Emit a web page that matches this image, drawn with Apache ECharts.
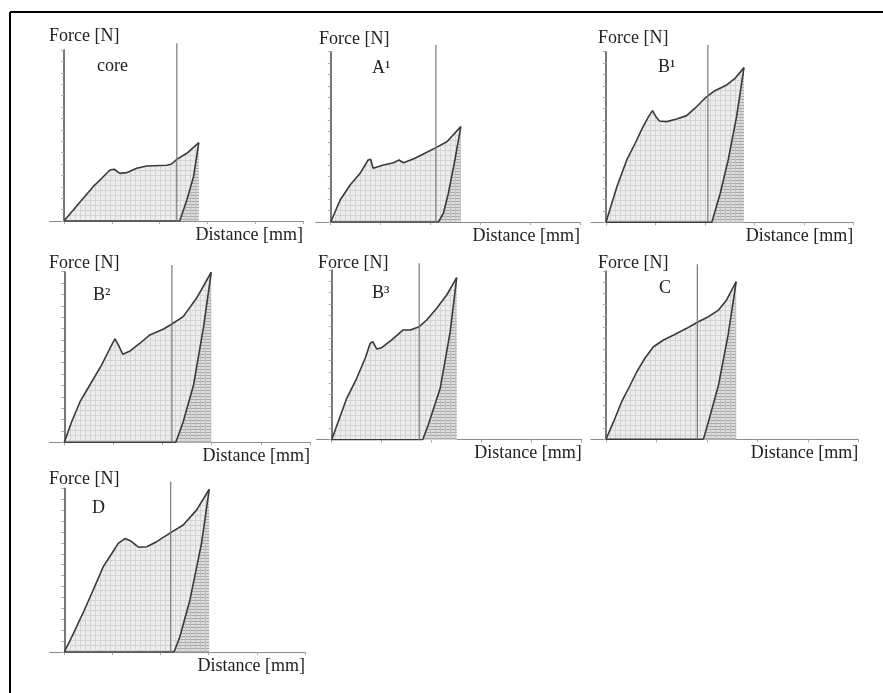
<!DOCTYPE html>
<html><head><meta charset="utf-8">
<script src="https://cdn.jsdelivr.net/npm/echarts@6/dist/echarts.min.js"></script>
<style>html,body{margin:0;padding:0;background:#fff}#c{width:883px;height:693px}</style>
</head><body><div id="c"></div>
<script>
// ---- data (x: distance in tick units, y: force in tick units) ----
const panelLabels = ['core', 'A¹', 'B¹', 'B²', 'B³', 'C', 'D'];
const xTicks = [0, 1, 2, 3, 4, 5];
const markerX = [2.36, 2.11, 2.06, 2.19, 1.75, 1.81, 2.21];

const loadCore = [[0,0],[0.34,1.69],[0.61,3.01],[0.79,3.75],[0.96,4.47],[1.05,4.54],[1.17,4.18],[1.31,4.24],[1.52,4.62],[1.73,4.82],[2.15,4.89],[2.25,5.0],[2.36,5.41],[2.57,5.94],[2.82,6.87]];
const unloadCore = [[2.42,0],[2.57,1.84],[2.71,3.89],[2.82,6.87]];

const loadA1 = [[0,0],[0.19,1.94],[0.39,3.26],[0.59,4.29],[0.75,5.46],[0.80,5.52],[0.85,4.73],[1.06,5.02],[1.26,5.22],[1.37,5.46],[1.46,5.22],[1.69,5.61],[1.89,6.05],[2.11,6.55],[2.33,7.07],[2.61,8.40]];
const unloadA1 = [[2.16,0],[2.26,0.77],[2.36,2.53],[2.49,5.46],[2.61,8.40]];

const loadB1 = [[0,0],[0.22,3.13],[0.42,5.48],[0.59,6.95],[0.75,8.41],[0.86,9.29],[0.94,9.82],[1.01,9.29],[1.08,8.91],[1.23,8.85],[1.43,9.09],[1.63,9.38],[1.80,10.03],[2.00,10.91],[2.20,11.57],[2.44,12.08],[2.61,12.66],[2.79,13.60]];
const unloadB1 = [[2.14,0],[2.31,2.55],[2.47,5.48],[2.64,9.29],[2.79,13.60]];

const loadB2 = [[0,0],[0.15,1.81],[0.32,3.57],[0.52,5.04],[0.76,6.80],[0.93,8.27],[1.03,9.09],[1.10,8.56],[1.19,7.74],[1.34,8.03],[1.54,8.71],[1.74,9.44],[2.02,9.96],[2.19,10.40],[2.42,11.05],[2.69,12.66],[2.99,14.95]];
const unloadB2 = [[2.27,0],[2.42,1.81],[2.63,5.04],[2.83,10.03],[2.99,14.95]];

const loadB3 = [[0,0],[0.13,1.59],[0.30,3.66],[0.50,5.43],[0.67,7.20],[0.77,8.52],[0.82,8.66],[0.90,8.02],[1.00,8.13],[1.20,8.82],[1.43,9.70],[1.57,9.70],[1.75,9.99],[1.90,10.58],[2.10,11.62],[2.30,12.79],[2.50,14.32]];
const unloadB3 = [[1.82,0],[1.93,1.30],[2.17,4.54],[2.37,9.55],[2.50,14.32]];

const loadC = [[0,0],[0.15,1.57],[0.31,3.35],[0.48,4.84],[0.61,6.02],[0.77,7.22],[0.94,8.25],[1.14,8.85],[1.37,9.36],[1.60,9.89],[1.81,10.43],[2.03,10.93],[2.23,11.52],[2.39,12.42],[2.58,14.05]];
const unloadC = [[1.93,0],[2.03,1.57],[2.23,4.84],[2.42,9.30],[2.58,14.05]];

const loadD = [[0,0],[0.19,1.71],[0.40,3.69],[0.60,5.68],[0.81,7.82],[0.99,9.05],[1.12,9.96],[1.26,10.39],[1.37,10.20],[1.54,9.60],[1.71,9.65],[1.92,10.11],[2.21,10.94],[2.47,11.64],[2.75,13.02],[3.01,14.91]];
const unloadD = [[2.28,0],[2.40,1.40],[2.61,4.77],[2.85,9.96],[3.01,14.91]];

const loads = [loadCore, loadA1, loadB1, loadB2, loadB3, loadC, loadD];
const unloads = [unloadCore, unloadA1, unloadB1, unloadB2, unloadB3, unloadC, unloadD];

// ---- layout (pixels): origin x, origin y, x-axis end, y-axis top, text positions ----
const layout = [
  {ox:64,    oy:221,   xe:303,   yt:50,    fx:49,  fy:27,  lx:97,  ly:57},
  {ox:330.7, oy:222,   xe:580,   yt:51.7,  fx:319, fy:30,  lx:372, ly:59},
  {ox:606,   oy:222.3, xe:853.3, yt:51.7,  fx:598, fy:29,  lx:658, ly:58},
  {ox:64.3,  oy:442.3, xe:310,   yt:271.7, fx:49,  fy:254, lx:93,  ly:286},
  {ox:331.7, oy:439.7, xe:581.7, yt:270,   fx:318, fy:254, lx:372, ly:284},
  {ox:606,   oy:439.3, xe:858.3, yt:271,   fx:598, fy:254, lx:659, ly:279},
  {ox:64.3,  oy:652,   xe:305,   yt:488.3, fx:49,  fy:470, lx:92,  ly:499}
];

function makePattern(w, h, bg, hLine, vLine) {
  const c = document.createElement('canvas');
  c.width = w; c.height = h;
  const g = c.getContext('2d');
  g.fillStyle = bg; g.fillRect(0, 0, w, h);
  if (hLine) { g.fillStyle = hLine; g.fillRect(0, 0, w, 1); }
  if (vLine) { g.fillStyle = vLine; g.fillRect(0, 0, 1, h); }
  return c;
}
const lightPat = makePattern(5, 5, '#ededed', '#d4d4d4', '#d4d4d4');
const darkPat = makePattern(5, 3, '#dcdcdc', '#a9a9a9', '#c2c2c2');

const font = {fontFamily: 'Liberation Serif', fontSize: 18, fontWeight: 'normal', color: '#222'};
const grids = [], xAxes = [], yAxes = [], series = [], titles = [];
layout.forEach((L, i) => {
  const step = (L.xe - L.ox) / 5;
  const left = L.ox - 0.3 * step;
  grids.push({left: left, top: L.yt, width: L.xe - left, height: L.oy - L.yt});
  xAxes.push({type: 'value', gridIndex: i, min: -0.3, max: 5,
    axisLine: {lineStyle: {color: '#8a8a8a', width: 1.2}},
    axisTick: {show: true, customValues: xTicks, length: 3, lineStyle: {color: '#aaa'}},
    axisLabel: {show: false}, splitLine: {show: false}});
  yAxes.push({type: 'value', gridIndex: i, min: 0, max: 15, interval: 1,
    axisLine: {show: true, onZero: true, lineStyle: {color: '#555', width: 1.6}},
    axisTick: {show: true, length: 3, lineStyle: {color: '#aaa'}},
    axisLabel: {show: false}, splitLine: {show: false}});
  const curve = {color: '#3a3a3a', width: 1.6};
  series.push({type: 'line', xAxisIndex: i, yAxisIndex: i, data: loads[i], showSymbol: false, z: 2,
    lineStyle: curve, areaStyle: {color: {image: lightPat, repeat: 'repeat'}, opacity: 1}});
  series.push({type: 'line', xAxisIndex: i, yAxisIndex: i, data: unloads[i], showSymbol: false, z: 3,
    lineStyle: curve, areaStyle: {color: {image: darkPat, repeat: 'repeat'}, opacity: 1}});
  series.push({type: 'line', xAxisIndex: i, yAxisIndex: i, data: [[0, 0], [unloads[i][0][0], 0]], showSymbol: false, z: 4,
    lineStyle: curve});
  series.push({type: 'line', xAxisIndex: i, yAxisIndex: i, data: [[markerX[i], 0], [markerX[i], 15.6]], showSymbol: false, z: 4,
    clip: false, lineStyle: {color: '#7a7a7a', width: 1.2}});
  titles.push({text: 'Force [N]', left: L.fx, top: L.fy, padding: 0, textStyle: font});
  titles.push({text: panelLabels[i], left: L.lx, top: L.ly, padding: 0, textStyle: font});
  titles.push({text: 'Distance [mm]', right: 883 - L.xe, top: L.oy + 5, padding: 0, textStyle: font});
});

const chart = echarts.init(document.getElementById('c'), null, {renderer: 'canvas'});
chart.setOption({
  animation: false,
  backgroundColor: '#fff',
  title: titles,
  grid: grids, xAxis: xAxes, yAxis: yAxes, series: series,
  graphic: [
    {type: 'line', shape: {x1: 10, y1: 12, x2: 883, y2: 12}, style: {stroke: '#000', lineWidth: 2}},
    {type: 'line', shape: {x1: 10, y1: 12, x2: 10, y2: 693}, style: {stroke: '#000', lineWidth: 2}}
  ]
});
</script>
</body></html>
